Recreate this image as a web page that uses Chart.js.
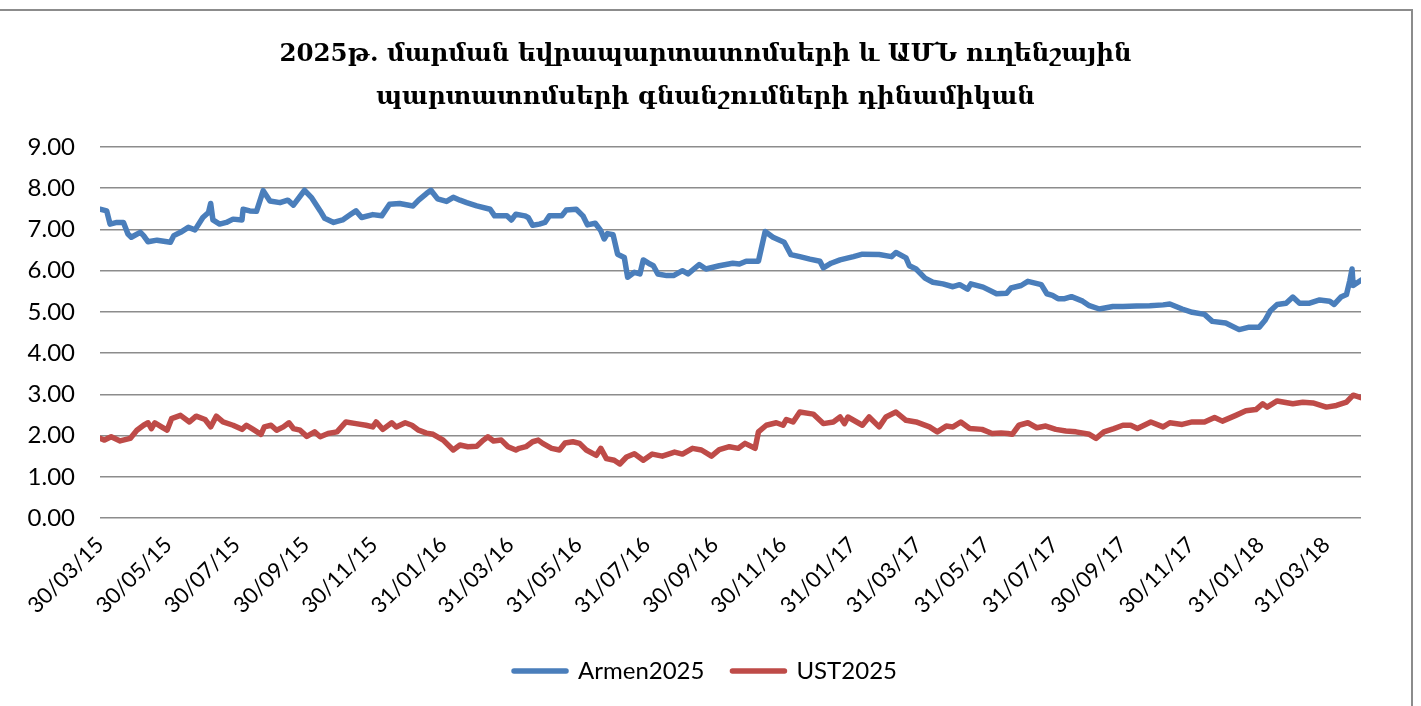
<!DOCTYPE html>
<html>
<head>
<meta charset="utf-8">
<script src="https://cdn.jsdelivr.net/npm/chart.js@4.4.1/dist/chart.umd.min.js"></script>
<style>
	html, body { margin: 0; padding: 0; background: #fff; overflow: hidden; }
	#cornice { position: absolute; left: -2px; top: 9px; width: 1413px; height: 700px; border-top: 2px solid #8c8c8c; border-right: 2px solid #8c8c8c; }
	#contenitore { position: absolute; left: 2px; top: 0; width: 1411px; height: 695px; }
</style>
</head>
<body>
<div id="cornice"><div id="contenitore"><canvas id="grafico" width="1411" height="695"></canvas></div></div>
<script>
	// giorni dal 30/03/2015 e valori
	var armenDays = [0,6,9,15,21,25,28,36,39,43,51,63,66,72,79,85,92,97,99,101,107,113,119,127,128,134,140,146,152,161,168,173,183,189,197,201,209,217,224,229,234,244,252,259,268,280,285,292,296,302,310,316,322,328,337,349,353,364,368,372,380,383,387,393,398,402,413,417,426,432,436,443,448,451,454,459,463,469,472,478,483,486,492,495,499,507,513,521,526,536,542,554,566,572,578,589,595,602,612,618,626,635,644,647,654,662,674,682,697,708,712,721,724,730,738,745,754,763,769,776,779,790,802,811,815,824,830,842,847,852,857,863,869,879,885,894,906,915,927,939,951,957,968,977,988,995,1007,1019,1028,1037,1042,1047,1053,1061,1067,1073,1082,1091,1100,1104,1110,1115,1118,1120,1121,1128];
	var armenValues = [7.49,7.45,7.13,7.17,7.17,6.89,6.81,6.93,6.85,6.70,6.74,6.69,6.85,6.93,7.05,6.99,7.29,7.41,7.63,7.23,7.13,7.17,7.25,7.23,7.49,7.45,7.44,7.94,7.69,7.65,7.71,7.59,7.95,7.78,7.45,7.27,7.17,7.23,7.36,7.45,7.29,7.36,7.33,7.61,7.63,7.57,7.71,7.87,7.95,7.74,7.68,7.78,7.71,7.65,7.57,7.49,7.33,7.33,7.23,7.37,7.33,7.29,7.10,7.13,7.17,7.33,7.33,7.47,7.49,7.33,7.11,7.15,6.97,6.77,6.90,6.87,6.40,6.32,5.84,5.96,5.92,6.26,6.16,6.12,5.92,5.88,5.88,6.00,5.92,6.15,6.04,6.12,6.18,6.16,6.23,6.23,6.95,6.81,6.69,6.39,6.34,6.28,6.23,6.07,6.18,6.26,6.34,6.40,6.39,6.34,6.44,6.31,6.12,6.04,5.82,5.72,5.68,5.61,5.66,5.55,5.68,5.60,5.44,5.45,5.58,5.64,5.74,5.66,5.44,5.40,5.32,5.32,5.37,5.26,5.15,5.07,5.13,5.13,5.14,5.15,5.17,5.19,5.07,4.99,4.94,4.77,4.73,4.57,4.63,4.63,4.79,5.03,5.18,5.21,5.36,5.21,5.21,5.29,5.26,5.18,5.36,5.42,5.76,6.04,5.64,5.77];

	var ustDays = [0,4,10,18,27,33,39,43,46,49,55,60,64,72,80,86,94,99,104,110,119,127,131,137,144,147,153,158,164,169,173,179,185,192,197,204,212,220,229,238,244,247,253,261,265,273,279,285,292,298,307,316,322,329,337,343,347,352,359,365,372,375,381,387,392,396,404,411,416,423,429,435,444,448,453,460,465,471,478,486,494,503,514,521,530,538,547,554,563,571,577,586,589,596,605,611,614,620,626,638,647,656,662,666,669,682,688,697,703,712,721,730,742,749,757,763,770,778,789,798,806,812,816,822,830,838,846,855,864,873,885,891,898,907,915,922,928,940,951,957,968,977,988,997,1004,1016,1025,1034,1040,1044,1053,1067,1076,1085,1097,1106,1115,1121,1128];
	var ustValues = [1.93,1.89,1.97,1.87,1.93,2.13,2.25,2.31,2.17,2.31,2.21,2.13,2.41,2.49,2.33,2.47,2.39,2.21,2.47,2.33,2.25,2.15,2.25,2.15,2.03,2.21,2.25,2.13,2.21,2.31,2.17,2.13,1.98,2.09,1.97,2.05,2.09,2.33,2.29,2.25,2.21,2.33,2.15,2.31,2.21,2.31,2.25,2.13,2.06,2.03,1.89,1.65,1.77,1.73,1.74,1.89,1.97,1.87,1.89,1.73,1.65,1.69,1.73,1.85,1.89,1.81,1.69,1.65,1.82,1.85,1.81,1.65,1.52,1.69,1.44,1.40,1.31,1.48,1.56,1.40,1.55,1.50,1.60,1.55,1.69,1.65,1.50,1.66,1.73,1.69,1.81,1.69,2.09,2.25,2.31,2.25,2.39,2.33,2.57,2.52,2.29,2.33,2.45,2.29,2.45,2.25,2.45,2.21,2.45,2.57,2.37,2.33,2.21,2.09,2.23,2.21,2.33,2.17,2.15,2.05,2.06,2.05,2.03,2.25,2.31,2.19,2.23,2.15,2.11,2.09,2.03,1.93,2.09,2.17,2.25,2.25,2.17,2.33,2.21,2.31,2.27,2.33,2.33,2.44,2.35,2.49,2.60,2.63,2.77,2.69,2.84,2.77,2.81,2.79,2.69,2.73,2.81,2.98,2.92];

	var tickLabels = ['30/03/15','30/05/15','30/07/15','30/09/15','30/11/15','31/01/16','31/03/16','31/05/16','31/07/16','30/09/16','30/11/16','31/01/17','31/03/17','31/05/17','31/07/17','30/09/17','30/11/17','31/01/18','31/03/18'];
	var seriesNames = ['Armen2025', 'UST2025'];
	var titolo = ['2025թ. մարման եվրապարտատոմսերի և ԱՄՆ ուղենշային', 'պարտատոմսերի գնանշումների դինամիկան'];

	var inizio = Date.UTC(2015, 2, 30);
	var tickDays = [];
	for (var i = 0; i < tickLabels.length; i++) {
		var p = tickLabels[i].split('/');
		var d = Date.UTC(2000 + parseInt(p[2], 10), parseInt(p[1], 10) - 1, parseInt(p[0], 10));
		tickDays.push(Math.round((d - inizio) / 86400000));
	}

	function punti(giorni, valori) {
		var out = [];
		for (var i = 0; i < giorni.length; i++) {
			out.push({x: giorni[i], y: valori[i]});
		}
		return out;
	}

	var font = 'Lato';

	var ctx = document.getElementById('grafico');
	var chart = new Chart(ctx, {
		type: 'line',
		data: {
			datasets: [{
				label: seriesNames[0],
				data: punti(armenDays, armenValues),
				borderColor: '#4a7ebb',
				backgroundColor: '#4a7ebb',
				borderWidth: 5.5,
				borderJoinStyle: 'round',
				borderCapStyle: 'round',
				pointRadius: 0,
				tension: 0
			}, {
				label: seriesNames[1],
				data: punti(ustDays, ustValues),
				borderColor: '#be4b48',
				backgroundColor: '#be4b48',
				borderWidth: 5.5,
				borderJoinStyle: 'round',
				borderCapStyle: 'round',
				pointRadius: 0,
				tension: 0
			}]
		},
		options: {
			responsive: false,
			animation: false,
			layout: { padding: { left: 0, right: 0, top: 0, bottom: 13 } },
			plugins: {
				title: {
					display: true,
					text: titolo,
					color: '#000',
					font: { family: 'DejaVu Serif', size: 24.5, weight: 'bold', lineHeight: 1.755 },
					padding: { top: 22, bottom: 28 }
				},
				legend: {
					position: 'bottom',
					labels: {
						color: '#000',
						font: { family: font, size: 24 },
						boxWidth: 52,
						boxHeight: 0,
						padding: 28
					}
				},
				tooltip: { enabled: false }
			},
			scales: {
				x: {
					type: 'linear',
					min: 0,
					max: 1128,
					grid: { display: false },
					border: { display: false },
					afterBuildTicks: function (scale) {
						scale.ticks = tickDays.map(function (v) { return {value: v}; });
					},
					afterFit: function (scale) { scale.height = 113; },
					ticks: {
						autoSkip: false,
						maxRotation: 45,
						minRotation: 45,
						padding: 6,
						color: '#000',
						font: { family: font, size: 22 },
						callback: function (value) {
							var k = tickDays.indexOf(value);
							return k >= 0 ? tickLabels[k] : '';
						}
					}
				},
				y: {
					min: 0,
					max: 9,
					afterFit: function (scale) { scale.width = 100; },
					grid: { color: '#8c8c8c', lineWidth: 1.5, drawTicks: false },
					border: { display: false },
					ticks: {
						stepSize: 1,
						padding: 25,
						color: '#000',
						font: { family: font, size: 24 },
						callback: function (v) { return v.toFixed(2); }
					}
				},
				// asse vuoto a destra solo per lasciare il margine bianco
				margine: {
					position: 'right',
					display: true,
					grid: { display: false },
					border: { display: false },
					ticks: { display: false },
					afterFit: function (scale) { scale.width = 50; }
				}
			}
		}
	});
</script>
</body>
</html>
